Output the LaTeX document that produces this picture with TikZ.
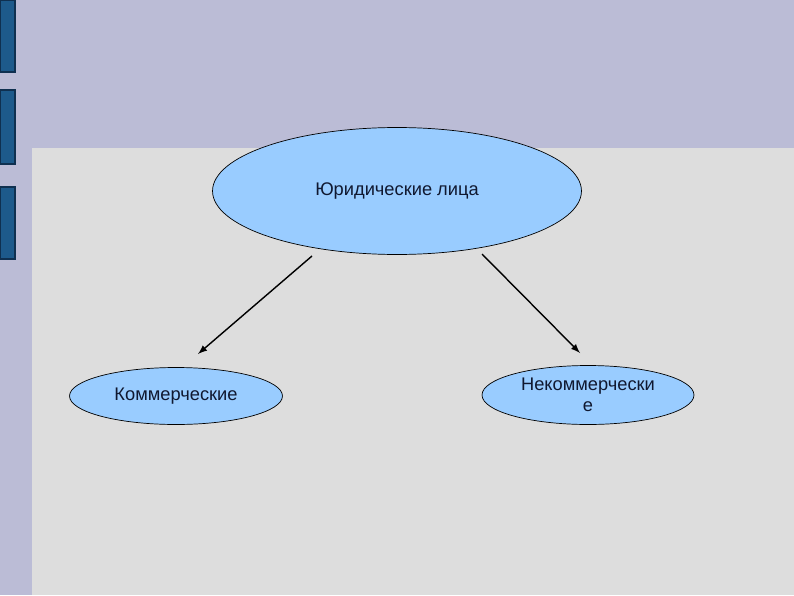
\documentclass[tikz,border=0pt]{standalone}
\usepackage{fontspec}
\setmainfont{Liberation Sans}
\usetikzlibrary{arrows,shapes.geometric}
\definecolor{slidebg}{HTML}{BBBCD6}
\definecolor{pagegrey}{HTML}{DDDDDD}
\definecolor{bubble}{HTML}{99CCFF}
\definecolor{barblue}{HTML}{1D5A8B}
\definecolor{bardark}{HTML}{0F3050}
\definecolor{inkblue}{HTML}{101830}
\tikzset{
  entity/.style={ellipse, draw=black, fill=bubble, inner sep=0pt, align=center,
    text=inkblue, font=\fontsize{10.4}{11.8}\selectfont},
  bar/.style={fill=barblue, draw=bardark, line width=0.6pt}
}
\begin{document}
\begin{tikzpicture}[x=0.02cm, y=-0.02cm]
\fill[slidebg] (0,0) rectangle (794,595);
\useasboundingbox (0,0) rectangle (794,595);
\fill[pagegrey] (32,148) rectangle (794,595);
\draw[bar] (0,0) rectangle (15,72);
\draw[bar] (0,90) rectangle (15,164);
\draw[bar] (0,187) rectangle (15,259);

\node[entity, minimum width=7.38cm, minimum height=2.54cm] (legal) at (397,191) {Юридические лица};
\node[entity, minimum width=4.26cm, minimum height=1.14cm] (comm) at (176,396) {Коммерческие};
\node[entity, minimum width=4.24cm, minimum height=1.18cm] (noncomm) at (588,395) {Некоммерчески\\е};

\coordinate (s1) at (312,256);
\coordinate (e1) at (198,354);
\coordinate (s2) at (482,254);
\coordinate (e2) at (580,353);

\draw[-latex, thick] (s1) to (e1);
\draw[-latex, thick] (s2) to (e2);
\end{tikzpicture}
\end{document}
